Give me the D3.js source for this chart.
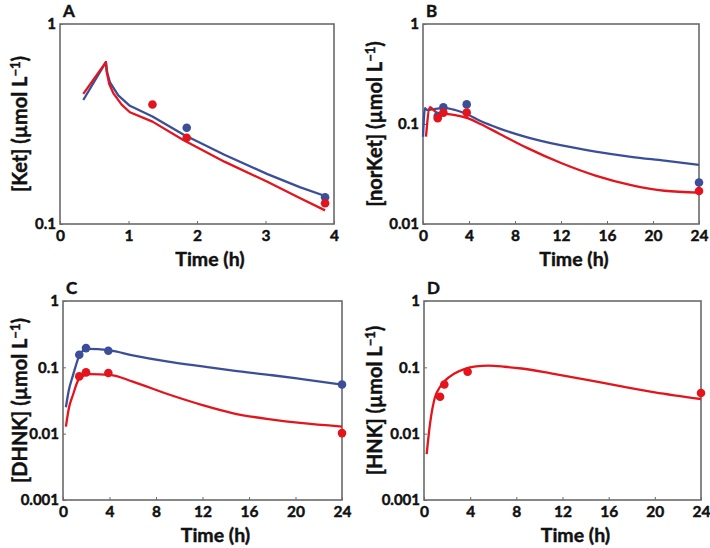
<!DOCTYPE html>
<html><head><meta charset="utf-8">
<script src="https://cdn.jsdelivr.net/npm/d3@7"></script>
<style>
html,body{margin:0;padding:0;background:#fff;}
text{font-family:Lato,"Open Sans",sans-serif;font-weight:700;fill:#111;}
.heavy{stroke:#111;stroke-width:0.45px;}
</style></head>
<body><svg id="c" width="710" height="548"></svg>
<script>
// ---- Data ----
const xTicksA = [0,1,2,3,4];
const xTicks24 = [0,4,8,12,16,20,24];
const yTicksA = [0.1,1];
const yTicksB = [0.01,0.1,1];
const yTicksCD = [0.001,0.01,0.1,1];
const yTickLabels = {0.001:"0.001",0.01:"0.01",0.1:"0.1",1:"1"};

const ketBlueLine = [[0.34,0.417],[0.67,0.645],[0.69,0.57],[0.73,0.51],[0.85,0.44],[1.02,0.39],[1.35,0.345],[1.8,0.28],[2.4,0.222],[3.02,0.178],[3.5,0.153],[3.87,0.138]];
const ketRedLine  = [[0.34,0.447],[0.67,0.645],[0.68,0.58],[0.72,0.5],[0.78,0.45],[0.9,0.395],[1.02,0.362],[1.35,0.325],[1.8,0.263],[2.4,0.205],[3.02,0.163],[3.5,0.135],[3.87,0.117]];
const ketBlueObs  = [[1.85,0.303],[3.87,0.136]];
const ketRedObs   = [[1.35,0.396],[1.85,0.27],[3.87,0.127]];

const norBlueLine = [[0,0.0746],[0.17,0.144],[0.35,0.138],[1,0.141],[1.77,0.145],[2.8,0.138],[3.65,0.128],[5,0.107],[6.55,0.091],[9,0.074],[12.06,0.061],[15,0.053],[18.1,0.047],[21,0.043],[24,0.039]];
const norRedLine  = [[0.26,0.0746],[0.6,0.147],[1.0,0.135],[1.33,0.128],[2.0,0.126],[2.8,0.123],[3.94,0.114],[5,0.1],[6.55,0.081],[9,0.058],[12.06,0.0405],[15,0.0305],[18.1,0.0245],[21,0.0215],[24,0.0206]];
const norBlueObs  = [[1.28,0.12],[1.77,0.147],[3.8,0.157],[24,0.026]];
const norRedObs   = [[1.28,0.114],[1.77,0.13],[3.8,0.13],[24,0.0214]];

const dhnkBlueLine = [[0.25,0.025],[0.5,0.045],[0.89,0.079],[1.2,0.12],[1.46,0.158],[2.09,0.19],[3,0.188],[4.04,0.18],[6,0.152],[8.92,0.123],[12,0.103],[14.65,0.089],[18,0.076],[20.4,0.067],[24,0.055]];
const dhnkRedLine  = [[0.25,0.0128],[0.5,0.024],[0.89,0.04],[1.2,0.058],[1.46,0.071],[2.32,0.079],[4.04,0.077],[6,0.061],[8.92,0.04],[12,0.027],[14.65,0.0203],[18,0.0163],[20.4,0.0145],[24,0.0128]];
const dhnkBlueObs  = [[1.4,0.155],[1.98,0.195],[3.9,0.178],[24,0.055]];
const dhnkRedObs   = [[1.4,0.073],[1.98,0.084],[3.9,0.082],[24,0.0102]];

const hnkRedLine = [[0.23,0.0049],[0.52,0.014],[0.95,0.0354],[1.3,0.048],[1.82,0.063],[2.6,0.08],[3.55,0.095],[4.5,0.103],[5.57,0.106],[7,0.102],[8.46,0.096],[11,0.081],[14.25,0.064],[17,0.052],[20,0.042],[24,0.0333]];
const hnkRedObs  = [[1.39,0.036],[1.76,0.055],[3.78,0.086],[24,0.041]];

const BLUE = "#3b4f98", RED = "#e3141c";

const panels = [
  {letter:"A", name:"Ket", box:[60,24,334,224], xd:[0,4], xt:xTicksA, yd:[0.1,1], yt:yTicksA, curve:d3.curveLinear,
   lines:[[ketBlueLine,BLUE],[ketRedLine,RED]], pts:[[ketBlueObs,BLUE],[ketRedObs,RED]], labX:27},
  {letter:"B", name:"norKet", box:[423,24,699,224], xd:[0,24], xt:xTicks24, yd:[0.01,1], yt:yTicksB, curve:d3.curveMonotoneX,
   lines:[[norBlueLine,BLUE],[norRedLine,RED]], pts:[[norBlueObs,BLUE],[norRedObs,RED]], labX:382},
  {letter:"C", name:"DHNK", box:[63,301,342,500], xd:[0,24], xt:xTicks24, yd:[0.001,1], yt:yTicksCD, curve:d3.curveMonotoneX,
   lines:[[dhnkBlueLine,BLUE],[dhnkRedLine,RED]], pts:[[dhnkBlueObs,BLUE],[dhnkRedObs,RED]], labX:27},
  {letter:"D", name:"HNK", box:[424,301,701,500], xd:[0,24], xt:xTicks24, yd:[0.001,1], yt:yTicksCD, curve:d3.curveMonotoneX,
   lines:[[hnkRedLine,RED]], pts:[[hnkRedObs,RED]], labX:382}
];

const svg = d3.select("#c");
panels.forEach(p => {
  const [x0,y0,x1,y1] = p.box;
  const x = d3.scaleLinear().domain(p.xd).range([x0,x1]);
  const y = d3.scaleLog().domain(p.yd).range([y1,y0]);
  const g = svg.append("g");
  g.append("rect").attr("x",x0).attr("y",y0).attr("width",x1-x0).attr("height",y1-y0)
    .attr("fill","none").attr("stroke","#6a6a6a").attr("stroke-width",1.6);
  const xa = d3.axisBottom(x).tickValues(p.xt).tickSizeInner(-3).tickSizeOuter(0).tickPadding(6).tickFormat(d3.format("d"));
  const gx = g.append("g").attr("transform",`translate(0,${y1})`).call(xa);
  gx.select(".domain").remove();
  gx.selectAll("line").attr("stroke","#6a6a6a").attr("stroke-width",1);
  gx.selectAll("text").attr("font-size",15.5).attr("fill","#111").attr("class","heavy")
    .style("font-family","Lato").style("font-weight",700);
  const ya = d3.axisLeft(y).tickValues(p.yt).tickSizeInner(-3).tickSizeOuter(0).tickPadding(4).tickFormat(d=>yTickLabels[d]);
  const gy = g.append("g").attr("transform",`translate(${x0},0)`).call(ya);
  gy.select(".domain").remove();
  gy.selectAll("line").attr("stroke","#6a6a6a").attr("stroke-width",1);
  gy.selectAll("text").attr("font-size",15).attr("fill","#111").attr("class","heavy")
    .style("font-family","Lato").style("font-weight",700);
  const line = d3.line().x(d=>x(d[0])).y(d=>y(d[1])).curve(p.curve);
  p.lines.forEach(([data,col]) => {
    g.append("path").attr("d",line(data)).attr("fill","none").attr("stroke",col).attr("stroke-width",2.3).attr("stroke-linejoin","round");
  });
  p.pts.forEach(([data,col]) => {
    g.selectAll(null).data(data).enter().append("circle")
      .attr("cx",d=>x(d[0])).attr("cy",d=>y(d[1])).attr("r",4.3).attr("fill",col);
  });
  g.append("text").attr("class","heavy").attr("x",x0+3).attr("y",y0-7).attr("font-size",17).text(p.letter);
  g.append("text").attr("class","heavy").attr("x",(x0+x1)/2+13).attr("y",y1+42).attr("text-anchor","middle").attr("font-size",19.5).text("Time (h)");
  const yl = g.append("text").attr("class","heavy").attr("transform",`translate(${p.labX},${(y0+y1)/2}) rotate(-90)`)
    .attr("text-anchor","middle").attr("font-size",20);
  yl.append("tspan").text(`[${p.name}] (\u00b5mol L`);
  yl.append("tspan").attr("dy",-7).attr("font-size",13).text("\u22121");
  yl.append("tspan").attr("dy",7).text(")");
});
</script></body></html>
